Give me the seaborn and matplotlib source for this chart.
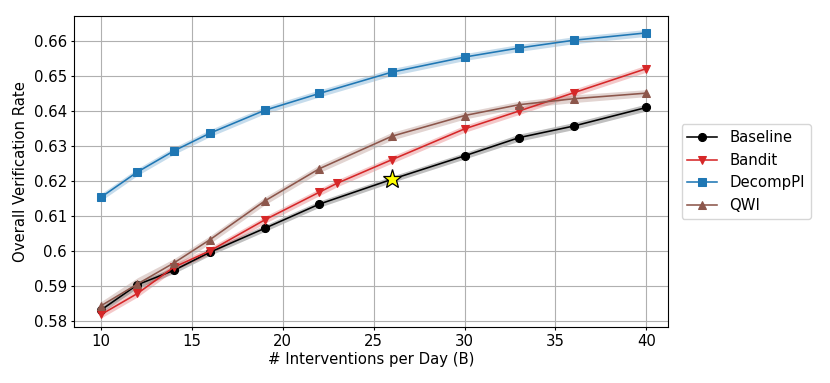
import matplotlib
matplotlib.use("Agg")
import matplotlib.pyplot as plt
import pandas as pd
import seaborn as sns

# x positions (interventions per day)
x_common = [10, 12, 14, 16, 19, 22, 26, 30, 33, 36, 40]
x_bandit = [10, 12, 14, 16, 19, 22, 23, 26, 30, 33, 36, 40]

baseline = [0.5833, 0.5905, 0.5946, 0.5998, 0.6066, 0.6135, 0.6206, 0.6273, 0.6325, 0.6358, 0.6411]
bandit = [0.5820, 0.5880, 0.5955, 0.6002, 0.6090, 0.6169, 0.6195, 0.6262, 0.6350, 0.6401, 0.6453, 0.6522]
decomppi = [0.6155, 0.6227, 0.6287, 0.6338, 0.6403, 0.6451, 0.6512, 0.6555, 0.6581, 0.6603, 0.6624]
qwi = [0.5845, 0.5907, 0.5967, 0.6034, 0.6144, 0.6236, 0.6329, 0.6388, 0.6419, 0.6436, 0.6452]

# half-width of shaded bands
baseline_err = [0.0009, 0.0009, 0.0009, 0.0009, 0.0009, 0.0009, 0.0009, 0.0009, 0.0010, 0.0010, 0.0010]
bandit_err = [0.0010, 0.0010, 0.0010, 0.0010, 0.0010, 0.0010, 0.0010, 0.0010, 0.0010, 0.0010, 0.0010, 0.0010]
decomppi_err = [0.0010, 0.0010, 0.0010, 0.0010, 0.0010, 0.0010, 0.0010, 0.0010, 0.0010, 0.0010, 0.0010]
qwi_err = [0.0012, 0.0018, 0.0012, 0.0011, 0.0011, 0.0011, 0.0011, 0.0010, 0.0010, 0.0011, 0.0010]

# highlighted point
star_x = [26]
star_y = [0.6206]

y_ticks = [0.58, 0.59, 0.60, 0.61, 0.62, 0.63, 0.64, 0.65, 0.66]
y_tick_labels = ["0.58", "0.59", "0.6", "0.61", "0.62", "0.63", "0.64", "0.65", "0.66"]
x_ticks = [10, 15, 20, 25, 30, 35, 40]

series = [
    ("Baseline", x_common, baseline, baseline_err, "black", "o"),
    ("Bandit", x_bandit, bandit, bandit_err, "#d62728", "v"),
    ("DecompPI", x_common, decomppi, decomppi_err, "#1f77b4", "s"),
    ("QWI", x_common, qwi, qwi_err, "#8c564b", "^"),
]

plt.rcParams["font.size"] = 10.7
plt.rcParams["xtick.major.size"] = 2.5
plt.rcParams["ytick.major.size"] = 2.5
plt.rcParams["xtick.major.pad"] = 2.5
plt.rcParams["ytick.major.pad"] = 2.5

fig = plt.figure(figsize=(8.3, 3.83), dpi=100)
ax = fig.add_axes([0.089, 0.146, 0.716, 0.812])

for name, xs, ys, err, color, marker in series:
    df = pd.DataFrame({"x": xs, "y": ys})
    sns.lineplot(data=df, x="x", y="y", ax=ax, color=color, marker=marker,
                 markersize=5.8, markeredgecolor=color, linewidth=1.15, label=name)
    lo = [v - e for v, e in zip(ys, err)]
    hi = [v + e for v, e in zip(ys, err)]
    ax.fill_between(xs, lo, hi, color=color, alpha=0.25, linewidth=0)

ax.plot(star_x, star_y, marker="*", color="yellow", markeredgecolor="black",
        markeredgewidth=0.9, markersize=14, linestyle="none", zorder=5)

ax.set_xlim(8.5, 41.2)
ax.set_ylim(0.5784, 0.6672)
ax.set_xticks(x_ticks)
ax.set_yticks(y_ticks)
ax.set_yticklabels(y_tick_labels)
ax.grid(True, color="#b0b0b0", linewidth=0.8)
ax.set_xlabel("# Interventions per Day (B)", labelpad=2)
ax.set_ylabel("Overall Verification Rate", labelpad=4)
ax.legend(loc="center left", bbox_to_anchor=(1.01, 0.5))

fig.savefig("out.png", dpi=100)
